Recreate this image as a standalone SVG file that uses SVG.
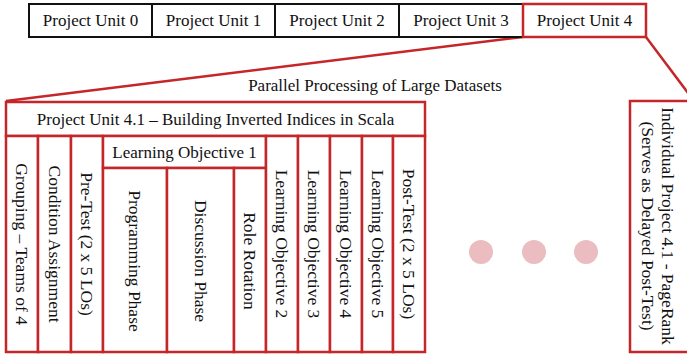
<svg xmlns="http://www.w3.org/2000/svg" width="687" height="355" viewBox="0 0 687 355">
<style>
text{font-family:"Liberation Serif","Times New Roman",serif;font-size:17px;fill:#111;text-anchor:middle;dominant-baseline:central}
.v{font-size:17.5px}
.blk{fill:#fff;stroke:#111;stroke-width:2}
.red{fill:#fff;stroke:#c5262a;stroke-width:2.5}
.ln{fill:none;stroke:#c5262a;stroke-width:2.5}
.dot{fill:#ebbcc0}
</style>
<rect width="687" height="355" fill="#fff"/>
<g id="connectors">
<line class="ln" x1="523" y1="37" x2="6" y2="101"/>
<line class="ln" x1="646" y1="37" x2="694" y2="101"/>
</g>
<g id="pu0"><rect class="blk" x="29" y="4" width="123" height="33"/><text x="90.5" y="20.5">Project Unit 0</text></g>
<g id="pu1"><rect class="blk" x="152" y="4" width="123" height="33"/><text x="213.5" y="20.5">Project Unit 1</text></g>
<g id="pu2"><rect class="blk" x="275" y="4" width="124" height="33"/><text x="337" y="20.5">Project Unit 2</text></g>
<g id="pu3"><rect class="blk" x="399" y="4" width="124" height="33"/><text x="461" y="20.5">Project Unit 3</text></g>
<g id="pu4"><rect class="red" x="523" y="4" width="123" height="33"/><text x="584.5" y="20.5">Project Unit 4</text></g>
<text id="theme" x="375" y="85">Parallel Processing of Large Datasets</text>
<g id="pu41">
<rect class="red" x="6" y="102" width="419" height="34"/>
<text x="215.5" y="119">Project Unit 4.1 – Building Inverted Indices in Scala</text>
</g>
<g id="c1"><rect class="red" x="6" y="136" width="32" height="216"/><text class="v" transform="rotate(90 22 244)" x="22" y="244">Grouping – Teams of 4</text></g>
<g id="c2"><rect class="red" x="38" y="136" width="33" height="216"/><text class="v" transform="rotate(90 54.5 244)" x="54.5" y="244">Condition Assignment</text></g>
<g id="c3"><rect class="red" x="71" y="136" width="32" height="216"/><text class="v" transform="rotate(90 87 244)" x="87" y="244">Pre-Test (2 x 5 LOs)</text></g>
<g id="lo1">
<rect class="red" x="103" y="136" width="163" height="32"/>
<text x="184.5" y="152">Learning Objective 1</text>
</g>
<g id="lo1a"><rect class="red" x="103" y="168" width="64" height="184"/><text class="v" transform="rotate(90 135 261)" x="135" y="261">Programming Phase</text></g>
<g id="lo1b"><rect class="red" x="167" y="168" width="67" height="184"/><text class="v" transform="rotate(90 200.5 261)" x="200.5" y="261">Discussion Phase</text></g>
<g id="lo1c"><rect class="red" x="234" y="168" width="32" height="184"/><text class="v" transform="rotate(90 250 261)" x="250" y="261">Role Rotation</text></g>
<g id="lo2"><rect class="red" x="266" y="136" width="32" height="216"/><text class="v" transform="rotate(90 282 244)" x="282" y="244">Learning Objective 2</text></g>
<g id="lo3"><rect class="red" x="298" y="136" width="32" height="216"/><text class="v" transform="rotate(90 314 244)" x="314" y="244">Learning Objective 3</text></g>
<g id="lo4"><rect class="red" x="330" y="136" width="32" height="216"/><text class="v" transform="rotate(90 346 244)" x="346" y="244">Learning Objective 4</text></g>
<g id="lo5"><rect class="red" x="362" y="136" width="31" height="216"/><text class="v" transform="rotate(90 377.5 244)" x="377.5" y="244">Learning Objective 5</text></g>
<g id="post"><rect class="red" x="393" y="136" width="32" height="216"/><text class="v" transform="rotate(90 409 244)" x="409" y="244">Post-Test (2 x 5 LOs)</text></g>
<g id="dots">
<circle class="dot" cx="481" cy="252" r="12"/>
<circle class="dot" cx="534" cy="252" r="12"/>
<circle class="dot" cx="586" cy="252" r="12"/>
</g>
<g id="ip41">
<rect class="red" x="630" y="101" width="80" height="251"/>
<text class="v" transform="rotate(90 668 226)" x="668" y="226">Individual Project 4.1 - PageRank</text>
<text class="v" transform="rotate(90 648 226)" x="648" y="226">(Serves as Delayed Post-Test)</text>
</g>
</svg>
